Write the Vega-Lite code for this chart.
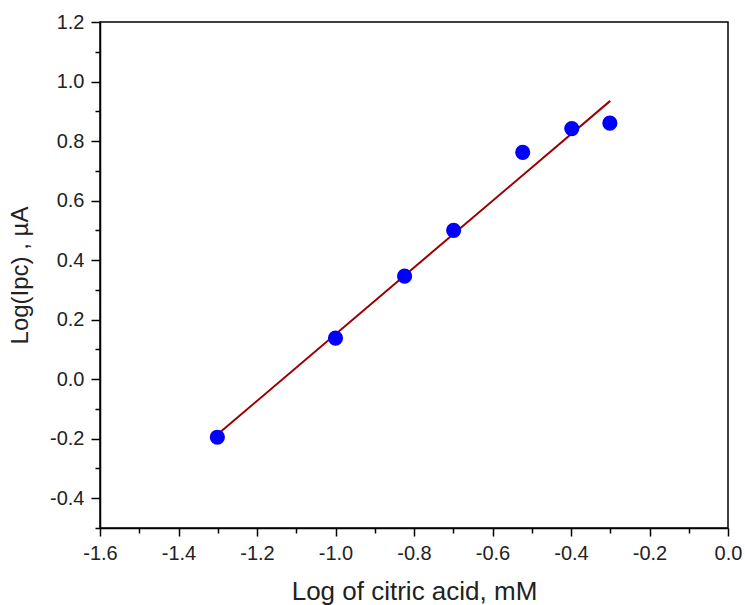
{
  "$schema": "https://vega.github.io/schema/vega-lite/v6.json",
  "autosize": "none",
  "width": 628,
  "height": 506,
  "padding": {"left": 100, "top": 22, "right": 17, "bottom": 77},
  "background": "white",
  "config": {
    "view": {"stroke": "black", "strokeWidth": 1.5},
    "font": "Liberation Sans",
    "axis": {
      "domainColor": "black",
      "domainWidth": 1.5,
      "tickColor": "black",
      "tickWidth": 1.5,
      "grid": false,
      "labelFont": "Liberation Sans",
      "labelFontSize": 20,
      "labelColor": "#222",
      "labelOverlap": false,
      "labelBound": false,
      "labelFlush": false,
      "titleFont": "Liberation Sans",
      "titleFontSize": 26,
      "titleFontWeight": "normal",
      "titleColor": "#222"
    }
  },
  "encoding": {
    "x": {
      "field": "x", "type": "quantitative",
      "scale": {"domain": [-1.6, 0.0], "nice": false, "zero": false},
      "axis": {
        "title": "Log of citric acid, mM",
        "values": [-1.6,-1.5,-1.4,-1.3,-1.2,-1.1,-1.0,-0.9,-0.8,-0.7,-0.6,-0.5,-0.4,-0.3,-0.2,-0.1,0.0],
        "labelExpr": "abs(round(datum.value*10))%2==0 ? replace(format(datum.value,'.1f'),'\u2212','-') : ''",
        "tickSize": {"condition": {"test": "abs(round(datum.value*10))%2==0", "value": 8}, "value": 5},
        "labelFontSize": 20,
        "labelFlush": false,
        "labelPadding": 7,
        "titlePadding": 15
      }
    },
    "y": {
      "field": "y", "type": "quantitative",
      "scale": {"domain": [-0.5, 1.2], "nice": false, "zero": false},
      "axis": {
        "title": "Log(Ipc) , µA",
        "titleFontSize": 24,
        "values": [-0.5,-0.4,-0.3,-0.2,-0.1,0.0,0.1,0.2,0.3,0.4,0.5,0.6,0.7,0.8,0.9,1.0,1.1,1.2],
        "labelExpr": "abs(round(datum.value*10))%2==0 ? replace(format(datum.value,'.1f'),'\u2212','-') : ''",
        "tickSize": {"condition": {"test": "abs(round(datum.value*10))%2==0", "value": 9}, "value": 5},
        "labelFontSize": 20,
        "labelFlush": false,
        "labelPadding": 7,
        "titlePadding": 17
      }
    }
  },
  "layer": [
    {
      "data": {"values": [
        {"x": -1.3, "y": -0.185},
        {"x": -0.3, "y": 0.935}
      ]},
      "mark": {"type": "line", "color": "#990000", "strokeWidth": 2}
    },
    {
      "data": {"values": [
        {"x": -1.301, "y": -0.195},
        {"x": -1.0, "y": 0.138},
        {"x": -0.824, "y": 0.346},
        {"x": -0.699, "y": 0.5},
        {"x": -0.523, "y": 0.762},
        {"x": -0.398, "y": 0.842},
        {"x": -0.301, "y": 0.86}
      ]},
      "mark": {"type": "point", "filled": true, "color": "#0000ff", "opacity": 1, "size": 230}
    }
  ]
}
